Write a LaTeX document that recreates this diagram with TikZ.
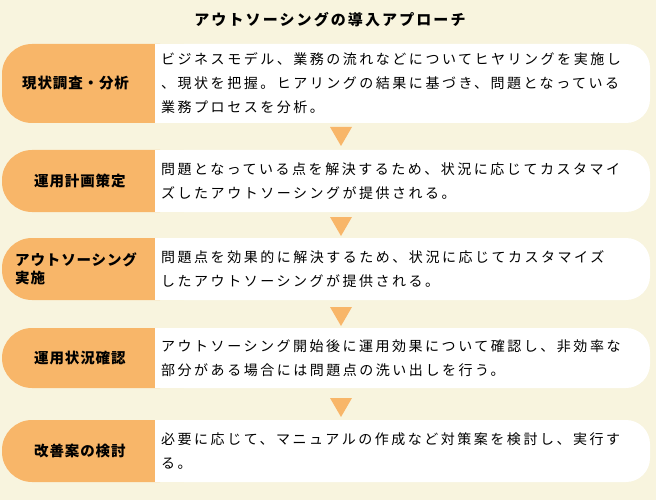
\documentclass[tikz,border=0pt]{standalone}
\usepackage{fontspec}
\setmainfont{Noto Sans CJK JP}
\newfontfamily\bodyf[LetterSpace=18]{Noto Sans CJK JP}
\newfontfamily\headf[LetterSpace=6]{Noto Sans CJK JP}
\newfontfamily\titlef[LetterSpace=14]{Noto Sans CJK JP}
\definecolor{bg}{HTML}{F8F4DE}
\definecolor{org}{HTML}{F8B669}
\begin{document}
\begin{tikzpicture}[x=1pt,y=-1pt,
  lbox/.style={fill=org,rounded corners=30},
  rbox/.style={fill=white,rounded corners=24},
  ltext/.style={font=\headf\fontsize{14.5}{18}\selectfont\bfseries, align=left, anchor=west, inner sep=0},
  rtext/.style={font=\bodyf\fontsize{14}{24}\selectfont, align=left, anchor=west, inner sep=0},
  tri/.style={fill=org}]
\fill[bg] (0,0) rectangle (656,500);
\useasboundingbox (0,0) rectangle (656,500);
\node[font=\titlef\fontsize{15}{18}\selectfont\bfseries] (title) at (330,20) {アウトソーシングの導入アプローチ};
\foreach \t/\b/\n in {44/123/1,150/212/2,238/300/3,328/388/4,420/482/5}{
  \fill[lbox] (2,\t) rectangle (190,\b);
  \fill[white] (155,\t) rectangle (195,\b);
  \fill[rbox] (160,\t) rectangle (650,\b);
  \coordinate (L\n) at (12,{(\t+\b)/2});
  \coordinate (R\n) at (161,{(\t+\b)/2});
}
\node[ltext] (l1) at ([xshift=10]L1) {現状調査・分析};
\node[ltext] (l2) at ([xshift=22]L2) {運用計画策定};
\node[ltext] (l3) at ([xshift=3]L3) {アウトソーシング\\実施};
\node[ltext] (l4) at ([xshift=22]L4) {運用状況確認};
\node[ltext] (l5) at ([xshift=22]L5) {改善案の検討};
\node[rtext] (r1) at (R1) {ビジネスモデル、業務の流れなどについてヒヤリングを実施し\\、現状を把握。ヒアリングの結果に基づき、問題となっている\\業務プロセスを分析。};
\node[rtext] (r2) at (R2) {問題となっている点を解決するため、状況に応じてカスタマイ\\ズしたアウトソーシングが提供される。};
\node[rtext] (r3) at (R3) {問題点を効果的に解決するため、状況に応じてカスタマイズ\\したアウトソーシングが提供される。};
\node[rtext] (r4) at (R4) {アウトソーシング開始後に運用効果について確認し、非効率な\\部分がある場合には問題点の洗い出しを行う。};
\node[rtext] (r5) at (R5) {必要に応じて、マニュアルの作成など対策案を検討し、実行す\\る。};
\foreach \y in {127,217,307,398}{
  \fill[tri] (330,\y) -- (352,\y) -- (341,\y+19) -- cycle;
}
\end{tikzpicture}
\end{document}
